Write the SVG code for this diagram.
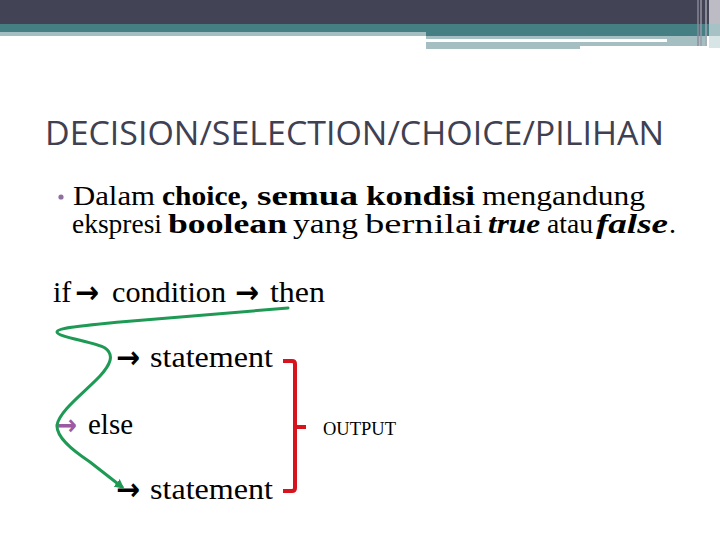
<svg xmlns="http://www.w3.org/2000/svg" width="720" height="540" viewBox="0 0 720 540">
  <style>
    .ser { font-family: "Liberation Serif", "Times New Roman", serif; fill: #000; }
    .b { font-weight: bold; }
    .bi { font-weight: bold; font-style: italic; }
    .body { font-size: 28px; }
    .flow { font-size: 30px; }
    .arr { font-family: "DejaVu Sans", sans-serif; font-size: 31px; font-weight: bold; fill: #000; }
    .title { font-family: "Open Sans", "Liberation Sans", sans-serif; font-size: 33px; fill: #3f4152; }
  </style>
  <defs>
    <marker id="gh" viewBox="0 0 10 10" refX="7" refY="5" markerWidth="3.2" markerHeight="3.2" orient="auto" markerUnits="strokeWidth">
      <path d="M0,0 L10,5 L0,10 z" fill="#1e9a55"/>
    </marker>
  </defs>
  <rect width="720" height="540" fill="#ffffff"/>
  <g id="header">
    <rect x="0" y="0" width="720" height="24" fill="#424456"/>
    <rect x="0" y="24" width="720" height="8" fill="#467f83"/>
    <rect x="426" y="32" width="294" height="4" fill="#467f83"/>
    <rect x="0" y="32" width="426" height="4" fill="#a5bec1"/>
    <rect x="426" y="36" width="241" height="3" fill="#a5bec1"/>
    <rect x="426" y="42" width="241" height="4" fill="#a5bec1"/>
    <rect x="426" y="46" width="154" height="3" fill="#a5bec1"/>
    <rect x="667" y="36" width="40" height="10" fill="#a5bec1"/>
    <rect x="697" y="0" width="2" height="46" fill="#8c8a9a" opacity="0.7"/>
    <rect x="700" y="0" width="2" height="46" fill="#9a98a8" opacity="0.7"/>
    <rect x="705" y="0" width="2" height="46" fill="#a8a6b4" opacity="0.7"/>
    <rect x="709" y="0" width="11" height="24" fill="#bdbcc4"/>
    <rect x="709" y="24" width="11" height="12" fill="#a6c2c4"/>
    <rect x="709" y="36" width="11" height="12" fill="#d7e5e6"/>
  </g>
  <g id="title">
    <text class="title" x="45" y="145" textLength="619" lengthAdjust="spacingAndGlyphs">DECISION/SELECTION/CHOICE/PILIHAN</text>
  </g>
  <g id="bullet">
    <circle cx="61" cy="197" r="2.6" fill="#8e6f9e"/>
    <text class="ser body" x="73" y="205" textLength="82" lengthAdjust="spacingAndGlyphs">Dalam</text>
    <text class="ser body b" x="162" y="205" textLength="86" lengthAdjust="spacingAndGlyphs">choice,</text>
    <text class="ser body b" x="257" y="205" textLength="101" lengthAdjust="spacingAndGlyphs">semua</text>
    <text class="ser body b" x="366" y="205" textLength="109" lengthAdjust="spacingAndGlyphs">kondisi</text>
    <text class="ser body" x="482" y="205" textLength="163" lengthAdjust="spacingAndGlyphs">mengandung</text>
    <text class="ser body" x="72" y="233" textLength="90" lengthAdjust="spacingAndGlyphs">ekspresi</text>
    <text class="ser body b" x="168" y="233" textLength="119" lengthAdjust="spacingAndGlyphs">boolean</text>
    <text class="ser body" x="293" y="233" textLength="65" lengthAdjust="spacingAndGlyphs">yang</text>
    <text class="ser body" x="365" y="233" textLength="118" lengthAdjust="spacingAndGlyphs">bernilai</text>
    <text class="ser body bi" x="488" y="233" textLength="52" lengthAdjust="spacingAndGlyphs">true</text>
    <text class="ser body" x="547" y="233" textLength="46" lengthAdjust="spacingAndGlyphs">atau</text>
    <text class="ser body bi" x="596" y="233" textLength="72" lengthAdjust="spacingAndGlyphs">false</text>
    <text class="ser body" x="669" y="233">.</text>
  </g>
  <g id="if-line">
    <text class="ser flow" x="53" y="302">if</text>
    <text class="arr" x="75" y="303" textLength="24" lengthAdjust="spacingAndGlyphs">→</text>
    <text class="ser flow" x="112" y="302" textLength="114" lengthAdjust="spacingAndGlyphs">condition</text>
    <text class="arr" x="235" y="303" textLength="24" lengthAdjust="spacingAndGlyphs">→</text>
    <text class="ser flow" x="270" y="302" textLength="55" lengthAdjust="spacingAndGlyphs">then</text>
  </g>
  <g id="statement-1">
    <text class="arr" x="116" y="368" textLength="24" lengthAdjust="spacingAndGlyphs">→</text>
    <text class="ser flow" x="150" y="367" textLength="123" lengthAdjust="spacingAndGlyphs">statement</text>
  </g>
  <g id="else">
    <text x="55" y="435" textLength="22" lengthAdjust="spacingAndGlyphs" style="font-family:'DejaVu Sans',sans-serif;font-size:29px;font-weight:bold;fill:#9b5aa2">→</text>
    <text class="ser flow" x="88" y="434" textLength="45" lengthAdjust="spacingAndGlyphs">else</text>
  </g>
  <g id="statement-2">
    <text class="arr" x="116" y="500" textLength="24" lengthAdjust="spacingAndGlyphs">→</text>
    <text class="ser flow" x="150" y="499" textLength="123" lengthAdjust="spacingAndGlyphs">statement</text>
  </g>
  <g id="output">
    <path d="M283,361 L292,361 Q295,361 295,364 L295,488 Q295,491 292,491 L283,491 M295,427 L306,427" fill="none" stroke="#d7141e" stroke-width="4"/>
    <text class="ser" x="323" y="435" style="font-size:18.5px" textLength="73" lengthAdjust="spacingAndGlyphs">OUTPUT</text>
  </g>
  <g id="connectors">
    <path d="M288,308 L120,322 C80,326 57,328 57,332 C57,337 95,342 105,348 C115,355 110,365 100,376 C85,392 60,410 57,425 C56,437 72,450 90,462 L122,487" fill="none" stroke="#1e9a55" stroke-width="3" stroke-linecap="round" marker-end="url(#gh)"/>
  </g>
</svg>
